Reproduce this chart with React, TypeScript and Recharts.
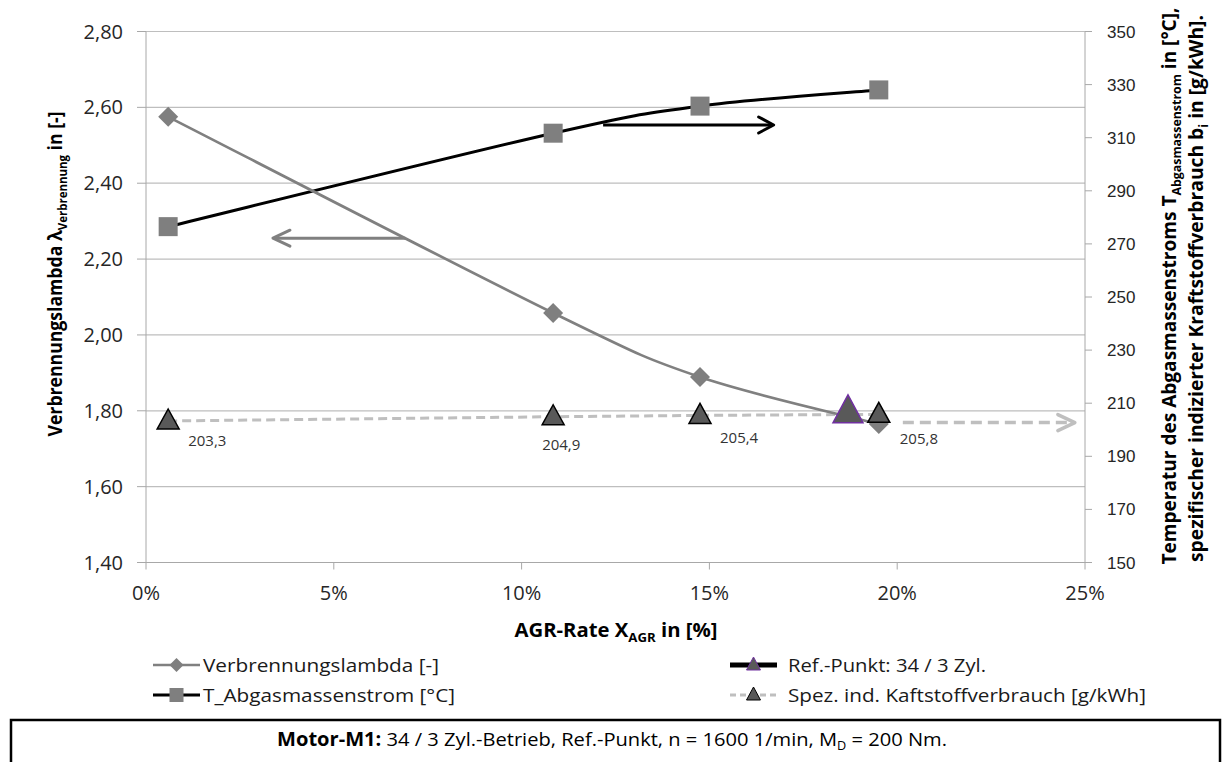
import React from 'react';
import {
  ComposedChart,
  Line,
  XAxis,
  YAxis,
  CartesianGrid,
  ReferenceLine,
  LabelList,
} from 'recharts';

// ---------- data ----------
const agrRate = [0.59, 10.84, 14.75, 19.51];
const lambdaValues = [2.575, 2.058, 1.889, 1.765];
const exhaustTemp = [276.5, 311.7, 321.9, 328.0];
const fuelConsumption = [203.3, 204.9, 205.4, 205.8];
const refAgr = [18.69];
const refLambda = [1.8];

const xTicks = [0, 5, 10, 15, 20, 25];
const leftTicks = [1.4, 1.6, 1.8, 2.0, 2.2, 2.4, 2.6, 2.8];
const rightTicks = [150, 170, 190, 210, 230, 250, 270, 290, 310, 330, 350];

// annotation arrows (data units)
const arrowLambda = [{ x: 6.9, y: 2.255 }, { x: 3.38, y: 2.255 }];
const arrowTemp = [{ x: 12.17, y: 314.8 }, { x: 16.71, y: 314.8 }];
const arrowFuel = [{ x: 20.15, y: 202.7 }, { x: 24.73, y: 202.7 }];

// label offsets for fuel consumption values (style only)
const fuelLabelOffsets = [
  { dx: 20, dy: 20 },
  { dx: -11, dy: 28 },
  { dx: 20, dy: 22 },
  { dx: 21, dy: 24 },
];

const data = agrRate.map((x, i) => ({
  x,
  lambda: lambdaValues[i],
  temp: exhaustTemp[i],
  bi: fuelConsumption[i],
}));
const refData = refAgr.map((x, i) => ({ x, ref: refLambda[i] }));

// ---------- styles ----------
const GRID = '#BEBEBE';
const AXIS = '#A8A8A8';
const TICK_TEXT = '#262626';
const LAMBDA_COLOR = '#808080';
const MARKER_GRAY = '#7F7F7F';
const TRI_FILL = '#595959';
const FUEL_LINE = '#BFBFBF';
const REF_STROKE = '#7030A0';

const legendItems = [
  { name: 'Verbrennungslambda [-]', kind: 'lambda', col: 0, row: 0, len: 236 },
  { name: 'T_Abgasmassenstrom [°C]', kind: 'temp', col: 0, row: 1, len: 252 },
  { name: 'Ref.-Punkt: 34 / 3 Zyl.', kind: 'ref', col: 1, row: 0, len: 198 },
  { name: 'Spez. ind. Kaftstoffverbrauch [g/kWh]', kind: 'fuel', col: 1, row: 1, len: 358 },
];

// Excel-like smoothed line (Catmull-Rom bezier) as a curve factory
const smoothCurve = (context: any) => {
  let pts: number[][] = [];
  return {
    areaStart() {},
    areaEnd() {},
    lineStart() {
      pts = [];
    },
    point(x: number, y: number) {
      pts.push([+x, +y]);
    },
    lineEnd() {
      const n = pts.length;
      if (!n) return;
      context.moveTo(pts[0][0], pts[0][1]);
      for (let i = 0; i < n - 1; i++) {
        const p0 = pts[Math.max(i - 1, 0)];
        const p1 = pts[i];
        const p2 = pts[i + 1];
        const p3 = pts[Math.min(i + 2, n - 1)];
        context.bezierCurveTo(
          p1[0] + (p2[0] - p0[0]) / 6,
          p1[1] + (p2[1] - p0[1]) / 6,
          p2[0] - (p3[0] - p1[0]) / 6,
          p2[1] - (p3[1] - p1[1]) / 6,
          p2[0],
          p2[1]
        );
      }
    },
  };
};

// ---------- shapes ----------
const diamond = (cx: number, cy: number, r: number, fill: string, key?: any) => (
  <path
    key={key}
    d={`M${cx},${cy - r}L${cx + r},${cy}L${cx},${cy + r}L${cx - r},${cy}Z`}
    fill={fill}
  />
);
const square = (cx: number, cy: number, r: number, fill: string, key?: any) => (
  <rect key={key} x={cx - r} y={cy - r} width={2 * r} height={2 * r} fill={fill} />
);
const triangle = (
  cx: number,
  cy: number,
  hw: number,
  up: number,
  down: number,
  fill: string,
  stroke: string,
  sw: number,
  key?: any
) => (
  <path
    key={key}
    d={`M${cx},${cy - up}L${cx + hw},${cy + down}L${cx - hw},${cy + down}Z`}
    fill={fill}
    stroke={stroke}
    strokeWidth={sw}
    strokeLinejoin="miter"
  />
);

const renderDiamondDot = (p: any) =>
  p.cx == null ? <g key={p.index} /> : diamond(p.cx, p.cy, 10, MARKER_GRAY, p.index);
const renderSquareDot = (p: any) =>
  p.cx == null ? <g key={p.index} /> : square(p.cx, p.cy, 9.5, MARKER_GRAY, p.index);
const renderTriDot = (p: any) =>
  p.cx == null ? <g key={p.index} /> : triangle(p.cx, p.cy, 11, 12, 8, TRI_FILL, '#000', 1.5, p.index);
const renderRefDot = (p: any) =>
  p.cx == null ? <g key={p.index} /> : triangle(p.cx, p.cy, 15, 16, 12, TRI_FILL, REF_STROKE, 1.5, p.index);

const arrowShape =
  (color: string, width: number, headLen: number, headHalf: number, dash?: string) =>
  (p: any) => {
    const { x1, y1, x2, y2 } = p;
    if (x1 == null) return <g />;
    const dir = Math.sign(x2 - x1) || 1;
    return (
      <g>
        <line
          x1={x1}
          y1={y1}
          x2={x2 - dir * 2}
          y2={y2}
          stroke={color}
          strokeWidth={width}
          strokeDasharray={dash}
        />
        <polyline
          points={`${x2 - dir * headLen},${y2 - headHalf} ${x2},${y2} ${x2 - dir * headLen},${y2 + headHalf}`}
          fill="none"
          stroke={color}
          strokeWidth={width}
          strokeLinecap="round"
          strokeLinejoin="round"
        />
      </g>
    );
  };

const renderFuelLabel = (p: any) => {
  const { x, y, value, index } = p;
  if (value == null || x == null) return null;
  const off = fuelLabelOffsets[index] || { dx: 15, dy: 20 };
  return (
    <text
      key={`fl-${index}`}
      x={x + off.dx}
      y={y + off.dy}
      dy="0.35em"
      fontFamily="'Open Sans', sans-serif"
      fontSize={15}
      fill="#333"
    >
      {String(value.toFixed(1)).replace('.', ',')}
    </text>
  );
};

const legendIcon = (kind: string, x0: number, cy: number) => {
  const x1 = x0 + 47;
  const cx = (x0 + x1) / 2;
  if (kind === 'lambda')
    return (
      <g>
        <line x1={x0} y1={cy} x2={x1} y2={cy} stroke={LAMBDA_COLOR} strokeWidth={2.5} />
        {diamond(cx, cy, 7, MARKER_GRAY)}
      </g>
    );
  if (kind === 'temp')
    return (
      <g>
        <line x1={x0} y1={cy} x2={x1} y2={cy} stroke="#000" strokeWidth={3} />
        {square(cx, cy, 7, MARKER_GRAY)}
      </g>
    );
  if (kind === 'ref')
    return (
      <g>
        <line x1={x0} y1={cy} x2={x1} y2={cy} stroke="#000" strokeWidth={5} />
        {triangle(cx, cy, 7, 8, 5, TRI_FILL, REF_STROKE, 1)}
      </g>
    );
  return (
    <g>
      <line x1={x0} y1={cy} x2={x1} y2={cy} stroke={FUEL_LINE} strokeWidth={3} strokeDasharray="6 4" />
      {triangle(cx, cy, 7, 8, 5, TRI_FILL, '#000', 1)}
    </g>
  );
};

const fmtLeft = (v: number) => v.toFixed(2).replace('.', ',');
const fmtPct = (v: number) => `${v}%`;

export default function App() {
  const W = 1222;
  const H = 762;
  const titleFont = "'Open Sans', sans-serif";
  return (
    <div style={{ position: 'absolute', left: 0, top: 0, width: W, height: H, background: '#fff' }}>
      <ComposedChart
        width={W}
        height={H}
        data={data}
        margin={{ top: 31.5, right: 77, bottom: 169.5, left: 86 }}
      >
        <CartesianGrid yAxisId="left" vertical={false} stroke={GRID} strokeWidth={1.2} />
        <XAxis
          dataKey="x"
          type="number"
          domain={[0, 25]}
          ticks={xTicks}
          tickFormatter={fmtPct}
          height={30}
          allowDataOverflow
          stroke={AXIS}
          tickSize={7}
          tickMargin={16}
          tick={{ fill: TICK_TEXT, fontSize: 20, fontFamily: "'Open Sans', sans-serif" }}
        />
        <YAxis
          yAxisId="left"
          domain={[1.4, 2.8]}
          ticks={leftTicks}
          tickFormatter={fmtLeft}
          width={60}
          allowDataOverflow
          stroke={AXIS}
          tickSize={9}
          tickMargin={14}
          tick={{ fill: TICK_TEXT, fontSize: 20, fontFamily: "'Open Sans', sans-serif" }}
        />
        <YAxis
          yAxisId="right"
          orientation="right"
          domain={[150, 350]}
          ticks={rightTicks}
          width={60}
          allowDataOverflow
          stroke={AXIS}
          tickSize={7}
          tickMargin={15}
          tick={{ fill: TICK_TEXT, fontSize: 17, fontFamily: "'Liberation Sans', Arial, sans-serif" }}
        />

        <ReferenceLine
          yAxisId="left"
          segment={arrowLambda}
          shape={arrowShape(LAMBDA_COLOR, 3, 17, 8)}
        />
        <ReferenceLine
          yAxisId="right"
          segment={arrowTemp}
          shape={arrowShape('#000', 3, 15, 8)}
        />
        <ReferenceLine
          yAxisId="right"
          segment={arrowFuel}
          shape={arrowShape(FUEL_LINE, 3.5, 17, 8, '11 6')}
        />

        <Line
          yAxisId="right"
          dataKey="bi"
          type="linear"
          stroke={FUEL_LINE}
          strokeWidth={3}
          strokeDasharray="9 5"
          dot={false}
          activeDot={false}
          isAnimationActive={false}
        />
        <Line
          yAxisId="right"
          dataKey="temp"
          type={smoothCurve as any}
          stroke="#000"
          strokeWidth={3}
          dot={renderSquareDot}
          activeDot={false}
          isAnimationActive={false}
        />
        <Line
          yAxisId="left"
          dataKey="lambda"
          type={smoothCurve as any}
          stroke={LAMBDA_COLOR}
          strokeWidth={2.7}
          dot={renderDiamondDot}
          activeDot={false}
          isAnimationActive={false}
        />
        <Line
          yAxisId="left"
          data={refData}
          dataKey="ref"
          stroke="none"
          dot={renderRefDot}
          activeDot={false}
          isAnimationActive={false}
        />
        <Line
          yAxisId="right"
          dataKey="bi"
          stroke="none"
          dot={renderTriDot}
          activeDot={false}
          isAnimationActive={false}
        >
          <LabelList dataKey="bi" content={renderFuelLabel} />
        </Line>
      </ComposedChart>

      <svg
        width={W}
        height={H}
        style={{ position: 'absolute', left: 0, top: 0, pointerEvents: 'none' }}
      >
        {/* left axis title */}
        <text
          transform="translate(62,274) rotate(-90)"
          textAnchor="middle"
          fontFamily={titleFont}
          fontWeight="bold"
          fontSize={20}
          fill="#000"
          textLength={325}
          lengthAdjust="spacingAndGlyphs"
        >
          Verbrennungslambda λ
          <tspan fontSize={13} dy={5}>Verbrennung</tspan>
          <tspan dy={-5}> in [-]</tspan>
        </text>

        {/* right axis title */}
        <text
          transform="translate(1176,286) rotate(-90)"
          textAnchor="middle"
          fontFamily={titleFont}
          fontWeight="bold"
          fontSize={20}
          fill="#000"
          textLength={557}
          lengthAdjust="spacingAndGlyphs"
        >
          Temperatur des Abgasmassenstroms T
          <tspan fontSize={13} dy={5}>Abgasmassenstrom</tspan>
          <tspan dy={-5}> in [°C],</tspan>
        </text>
        <text
          transform="translate(1203,288.5) rotate(-90)"
          textAnchor="middle"
          fontFamily={titleFont}
          fontWeight="bold"
          fontSize={20}
          fill="#000"
          textLength={547}
          lengthAdjust="spacingAndGlyphs"
        >
          spezifischer indizierter Kraftstoffverbrauch b
          <tspan fontSize={13} dy={5}>i</tspan>
          <tspan dy={-5}> in [g/kWh].</tspan>
        </text>

        {/* x axis title */}
        <text
          x={616}
          y={637}
          textAnchor="middle"
          fontFamily={titleFont}
          fontWeight="bold"
          fontSize={20}
          fill="#000"
          textLength={203}
          lengthAdjust="spacingAndGlyphs"
        >
          AGR-Rate X
          <tspan fontSize={13} dy={5}>AGR</tspan>
          <tspan dy={-5}> in [%]</tspan>
        </text>

        {/* legend */}
        {legendItems.map((it) => {
          const x0 = it.col === 0 ? 153 : 730;
          const tx = it.col === 0 ? 203 : 788;
          const cy = it.row === 0 ? 665 : 695;
          return (
            <g key={it.name}>
              {legendIcon(it.kind, x0, cy)}
              <text
                x={tx}
                y={cy + 6.5}
                fontFamily="'Open Sans', sans-serif"
                fontSize={18}
                fill="#1a1a1a"
                textLength={it.len}
                lengthAdjust="spacingAndGlyphs"
              >
                {it.name}
              </text>
            </g>
          );
        })}

        {/* footer box */}
        <rect x={11} y={720} width={1209} height={70} fill="none" stroke="#000" strokeWidth={2.5} />
        <text
          x={612}
          y={746}
          textAnchor="middle"
          fontFamily="'Open Sans', sans-serif"
          fontSize={19}
          fill="#000"
          textLength={670}
          lengthAdjust="spacingAndGlyphs"
        >
          <tspan fontWeight="bold">Motor-M1:</tspan> 34 / 3 Zyl.-Betrieb, Ref.-Punkt, n = 1600 1/min, M
          <tspan fontSize={12} dy={4}>D</tspan>
          <tspan dy={-4}> = 200 Nm.</tspan>
        </text>
      </svg>
    </div>
  );
}
